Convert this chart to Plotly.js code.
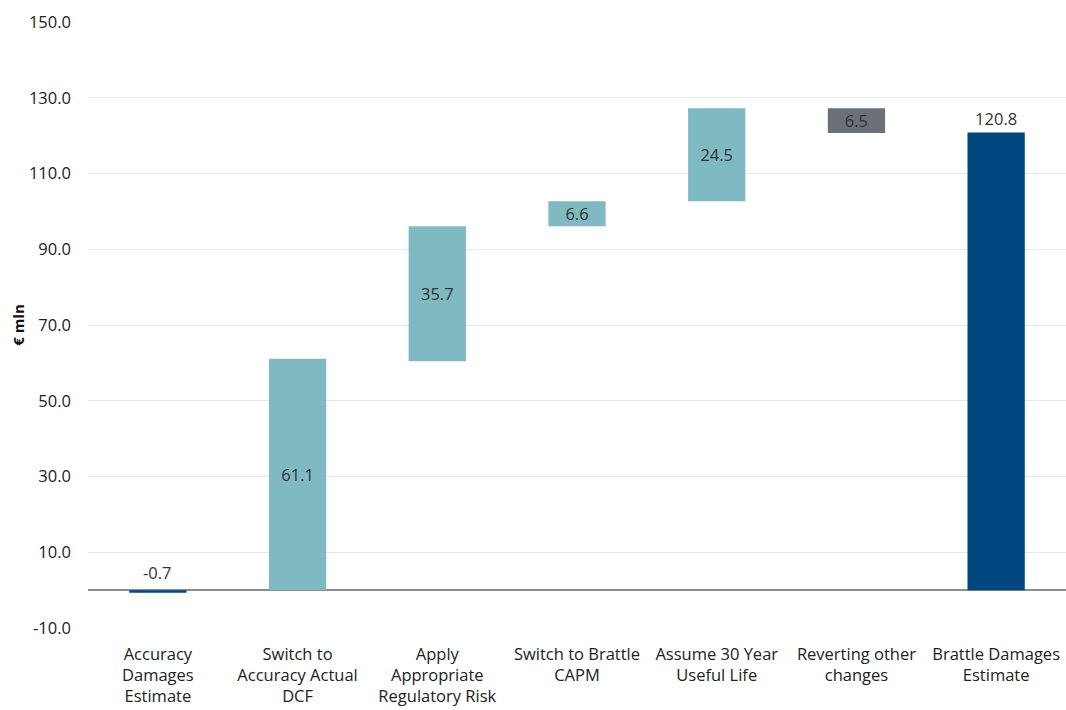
<!DOCTYPE html>
<html>
<head>
<meta charset="utf-8">
<script src="https://cdn.plot.ly/plotly-3.0.1.min.js"></script>
<style>
  html, body { margin: 0; padding: 0; background: #fff; }
  #chart { width: 1066px; height: 710px; }
</style>
</head>
<body>
<div id="chart"></div>
<script>
// Bridge from the Accuracy damages estimate to the Brattle damages estimate (€ mln)
const categories = [
  "Accuracy<br>Damages<br>Estimate",
  "Switch to<br>Accuracy Actual<br>DCF",
  "Apply<br>Appropriate<br>Regulatory Risk",
  "Switch to Brattle<br>CAPM",
  "Assume 30 Year<br>Useful Life",
  "Reverting other<br>changes",
  "Brattle Damages<br>Estimate"
];
const values = [-0.7, 61.1, 35.7, 6.6, 24.5, -6.5, 120.8];
const kinds = ["total", "step", "step", "step", "step", "step", "total"];
const yTicks = [-10, 10, 30, 50, 70, 90, 110, 130, 150];

const teal = "#7fb9c2";
const navy = "#00467f";
const slate = "#6b7079";

// Totals stand on zero; each step floats from the running total (never below zero)
let running = 0;
const bases = values.map((v, i) => {
  if (kinds[i] === "total") { running = v; return 0; }
  const b = Math.max(0, running);
  running += v;
  return b;
});
const colors = values.map((v, i) => kinds[i] === "total" ? navy : (v < 0 ? slate : teal));
const labels = values.map((v, i) => (i === 0 ? "" : Math.abs(v).toFixed(1)));
const positions = values.map((v, i) => (i === values.length - 1 ? "outside" : "inside"));

const fontFam = "Open Sans, sans-serif";

const trace = {
  type: "bar",
  x: categories,
  y: values,
  base: bases,
  marker: { color: colors, line: { width: 0 } },
  text: labels,
  textposition: positions,
  insidetextanchor: "middle",
  constraintext: "none",
  textfont: { family: fontFam, size: 16.5, color: "#333333" },
  outsidetextfont: { family: fontFam, size: 16.5, color: "#333333" },
  cliponaxis: false,
  width: 0.41,
  hoverinfo: "skip"
};

const layout = {
  width: 1066,
  height: 710,
  margin: { l: 88, r: 0, t: 22, b: 82 },
  paper_bgcolor: "#ffffff",
  plot_bgcolor: "#ffffff",
  showlegend: false,
  font: { family: fontFam, size: 16, color: "#222222" },
  xaxis: {
    type: "category",
    showgrid: false,
    showline: false,
    zeroline: false,
    ticks: "",
    tickfont: { family: fontFam, size: 16.5, color: "#222222" },
    ticklabelstandoff: 14
  },
  yaxis: {
    range: [-10, 150],
    tickmode: "array",
    tickvals: yTicks,
    ticktext: yTicks.map(v => v.toFixed(1)),
    showgrid: true,
    gridcolor: "#e6e6e6",
    gridwidth: 1,
    zeroline: true,
    zerolinecolor: "#8c8c8c",
    zerolinewidth: 1.3,
    showline: false,
    ticks: "",
    ticklabelstandoff: 16,
    tickfont: { family: fontFam, size: 16.5, color: "#222222" },
    title: {
      text: "€ mln",
      standoff: 0,
      font: { family: fontFam, size: 15, color: "#111111", weight: "bold" }
    }
  },
  annotations: [
    {
      x: categories[0],
      y: 0,
      xref: "x",
      yref: "y",
      text: values[0].toFixed(1),
      showarrow: false,
      yanchor: "bottom",
      yshift: 4,
      font: { family: fontFam, size: 16.5, color: "#333333" }
    }
  ]
};

Plotly.newPlot("chart", [trace], layout, { displayModeBar: false, staticPlot: true });
</script>
</body>
</html>
